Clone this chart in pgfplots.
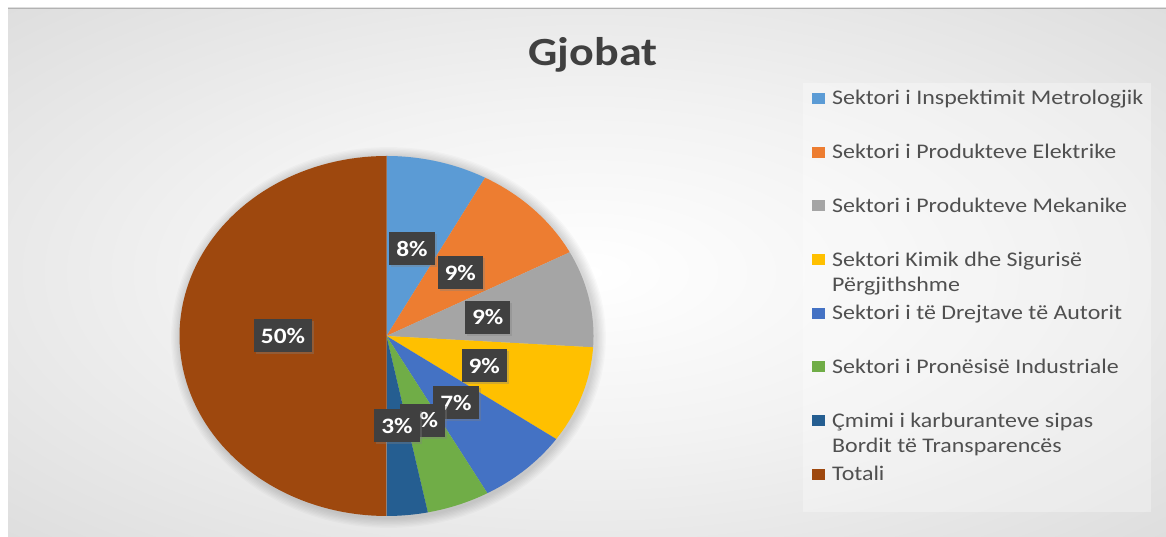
\documentclass[border=0pt]{standalone}
\usepackage{pgfplots}
\pgfplotsset{compat=1.18}
\usepackage{fontspec}
\setmainfont{Carlito}[FakeStretch=1.15]
\usetikzlibrary{shadows}
\definecolor{c1}{HTML}{5B9BD5}
\definecolor{c2}{HTML}{ED7D31}
\definecolor{c3}{HTML}{A5A5A5}
\definecolor{c4}{HTML}{FFC000}
\definecolor{c5}{HTML}{4472C4}
\definecolor{c6}{HTML}{70AD47}
\definecolor{c7}{HTML}{255E91}
\definecolor{c8}{HTML}{9E480E}
\definecolor{lblc}{HTML}{404040}
\definecolor{legtxt}{HTML}{505050}
\definecolor{ttl}{HTML}{404040}
\pgfdeclareradialshading{bgshade}{\pgfpoint{0bp}{0bp}}{%
  color(0bp)=(white);
  color(16bp)=(white!95!black);
  color(38bp)=(white!86!black);
  color(72bp)=(white!74!black)}

% cumulative share handled globally
\gdef\cum{0}
\newcommand{\slice}[2]{%
  \pgfmathsetmacro{\aS}{90-3.6*\cum}%
  \pgfmathsetmacro{\aE}{90-3.6*(\cum+#1)}%
  \edef\tmp{\noexpand\addplot[fill=#2, draw=none, domain=\aE:\aS, samples=90, variable=\noexpand\t]
     ({cos(\noexpand\t)},{sin(\noexpand\t)}) -- (axis cs:0,0) -- cycle;}%
  \tmp
  \pgfmathsetmacro{\newcum}{\cum+#1}%
  \xdef\cum{\newcum}%
}
\newcommand{\slicelabel}[1]{%
  \pgfmathsetmacro{\aM}{90-3.6*(\cum+#1/2)}%
  \pgfmathsetmacro{\lx}{0.5*cos(\aM)}%
  \pgfmathsetmacro{\ly}{0.5*sin(\aM)}%
  \pgfmathtruncatemacro{\lab}{round(#1)}%
  \edef\tmp{\noexpand\node[lbl] at (axis cs:\lx,\ly) {\lab\noexpand\%};}%
  \tmp
  \pgfmathsetmacro{\newcum}{\cum+#1}%
  \xdef\cum{\newcum}%
}

\begin{document}
\begin{tikzpicture}[x=1bp,y=1bp,
  lbl/.style={fill=lblc, text=white, font=\bfseries\fontsize{22bp}{22bp}\selectfont,
     inner xsep=7bp, inner ysep=0bp, minimum height=33bp,
     drop shadow={shadow xshift=2bp, shadow yshift=-2bp, opacity=0.35}},
  legsq/.style={minimum width=13bp, minimum height=11bp, inner sep=0pt},
  legt/.style={anchor=base west, text=legtxt, font=\fontsize{20.8bp}{25bp}\selectfont, inner sep=0pt}]
% canvas
\path[use as bounding box] (0,0) rectangle (1166,537);
\fill[white] (0,0) rectangle (1166,537);
\shade[shading=bgshade] (8,0) rectangle (1166,529);
\draw[white!70!black, line width=1.2bp] (8,528.6) -- (1166,528.6);
% title
\node[anchor=base, text=ttl, font=\bfseries\fontsize{40bp}{40bp}\selectfont, inner sep=0pt] at (593,471.3) {Gjobat};
% soft shadow of the pie
\foreach \i in {1,...,8} {
  \fill[black, opacity=0.02] (388.5,199.5) ellipse [x radius={207+1.3*\i}, y radius={180+1.3*\i}];
}
% legend panel
\fill[white, opacity=0.3] (803,25) rectangle (1151,454);

\begin{axis}[at={(386.5bp,201bp)}, anchor=center, scale only axis,
  width=414bp, height=360bp, xmin=-1, xmax=1, ymin=-1, ymax=1,
  hide axis, clip=false]
\slice{7.9}{c1}
\slice{9.4}{c2}
\slice{8.7}{c3}
\slice{8.7}{c4}
\slice{7.2}{c5}
\slice{4.9}{c6}
\slice{3.2}{c7}
\slice{50.0}{c8}
\gdef\cum{0}
\slicelabel{7.9}
\slicelabel{9.4}
\slicelabel{8.7}
\slicelabel{8.7}
\slicelabel{7.2}
\slicelabel{4.9}
\slicelabel{3.2}
\slicelabel{50.0}
\end{axis}

% legend entries
\node[legsq, fill=c1] at (818,{537-105+6.5}) {};
\node[legt] at (832,{537-105}) {Sektori i Inspektimit Metrologjik};
\node[legsq, fill=c2] at (818,{537-158.7+6.5}) {};
\node[legt] at (832,{537-158.7}) {Sektori i Produkteve Elektrike};
\node[legsq, fill=c3] at (818,{537-212.4+6.5}) {};
\node[legt] at (832,{537-212.4}) {Sektori i Produkteve Mekanike};
\node[legsq, fill=c4] at (818,{537-266.1+6.5}) {};
\node[legt] at (832,{537-266.1}) {Sektori Kimik dhe Sigurisë};
\node[legt] at (832,{537-291.6}) {Përgjithshme};
\node[legsq, fill=c5] at (818,{537-319.8+6.5}) {};
\node[legt] at (832,{537-319.8}) {Sektori i të Drejtave të Autorit};
\node[legsq, fill=c6] at (818,{537-373.5+6.5}) {};
\node[legt] at (832,{537-373.5}) {Sektori i Pronësisë Industriale};
\node[legsq, fill=c7] at (818,{537-427.2+6.5}) {};
\node[legt] at (832,{537-427.2}) {Çmimi i karburanteve sipas};
\node[legt] at (832,{537-452.7}) {Bordit të Transparencës};
\node[legsq, fill=c8] at (818,{537-480.9+6.5}) {};
\node[legt] at (832,{537-480.9}) {Totali};
\end{tikzpicture}
\end{document}
